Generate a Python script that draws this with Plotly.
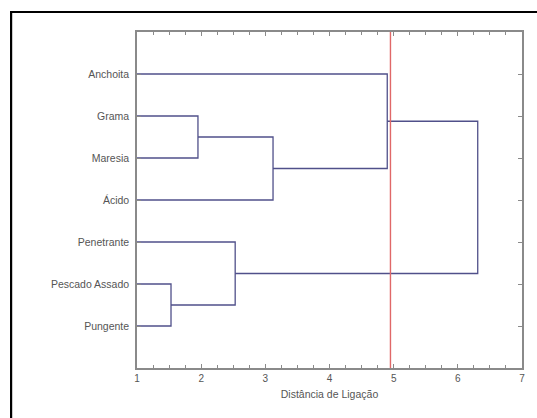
import plotly.graph_objects as go

# Leaves, top to bottom
labels = ["Anchoita", "Grama", "Maresia", "Ácido", "Penetrante", "Pescado Assado", "Pungente"]
# Merges: (node a, node b, linkage distance); nodes >= len(labels) refer to earlier merges
merge_a = [1, 5, 7, 0, 4, 10]
merge_b = [2, 6, 3, 9, 8, 11]
merge_h = [1.95, 1.53, 3.12, 4.90, 2.53, 6.31]
cut_distance = 4.95
x_ticks = [1, 2, 3, 4, 5, 6, 7]

n = len(labels)
pos = {i: (1.0, float(i + 1)) for i in range(n)}  # node -> (x, y)
xs, ys = [], []
for k, (a, b, h) in enumerate(zip(merge_a, merge_b, merge_h)):
    xa, ya = pos[a]
    xb, yb = pos[b]
    xs += [xa, h, h, xb, None]
    ys += [ya, ya, yb, yb, None]
    pos[n + k] = (h, (ya + yb) / 2)

fig = go.Figure()
fig.add_trace(go.Scatter(x=xs, y=ys, mode="lines",
                         line=dict(color="#50508a", width=1.3),
                         hoverinfo="skip", showlegend=False))
fig.add_trace(go.Scatter(x=[cut_distance, cut_distance], y=[0, 8], mode="lines",
                         line=dict(color="#e06868", width=1.4),
                         hoverinfo="skip", showlegend=False))

axis_col = "#8a8a8a"
fig.update_xaxes(range=[1, 7], tickvals=x_ticks, ticks="inside", ticklen=4,
                 tickcolor=axis_col, mirror="ticks", showline=True, linecolor=axis_col,
                 linewidth=1.5, showgrid=False, zeroline=False,
                 minor=dict(dtick=0.25, ticks="inside", ticklen=3, tickcolor=axis_col),
                 tickfont=dict(family="Liberation Sans, Arial", size=10, color="#555555"),
                 title=dict(text="Distância de Ligação", standoff=8,
                            font=dict(family="Liberation Sans, Arial", size=10.5, color="#555555")))
fig.update_yaxes(range=[8, 0], tickvals=list(range(1, n + 1)), ticktext=labels,
                 ticks="inside", ticklen=4, tickcolor=axis_col, mirror="ticks",
                 showline=True, linecolor=axis_col, linewidth=1.5, showgrid=False,
                 zeroline=False, ticklabelstandoff=4,
                 tickfont=dict(family="Liberation Sans, Arial", size=10.5, color="#555555"))

fig.update_layout(
    width=537, height=418,
    margin=dict(l=137, r=12, t=32, b=50),
    paper_bgcolor="white", plot_bgcolor="white",
    shapes=[
        dict(type="line", xref="paper", yref="paper", x0=-0.327, x1=1.04, y0=1.0595, y1=1.0595,
             line=dict(color="black", width=2.2)),
        dict(type="line", xref="paper", yref="paper", x0=-0.327, x1=-0.327, y0=-0.2, y1=1.0625,
             line=dict(color="black", width=2.2)),
    ],
)

fig.write_html("out.html", config={"displayModeBar": False},
               post_script="document.body.style.margin='0';document.body.style.overflow='hidden';document.documentElement.style.overflow='hidden';")
